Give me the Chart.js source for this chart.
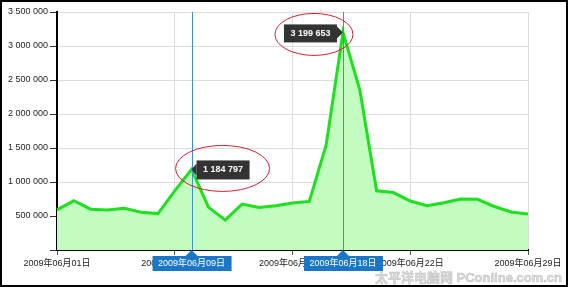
<!DOCTYPE html>
<html>
<head>
<meta charset="utf-8">
<script src="https://cdn.jsdelivr.net/npm/chart.js@4/dist/chart.umd.min.js"></script>
<style>
html,body{margin:0;padding:0;background:#fff;}
#wrap{position:relative;width:568px;height:287px;}
</style>
</head>
<body>
<div id="wrap"><canvas id="c" width="568" height="287"></canvas></div>
<script>
const categories = [
  '2009年06月01日','2009年06月02日','2009年06月03日','2009年06月04日','2009年06月05日',
  '2009年06月06日','2009年06月07日','2009年06月08日','2009年06月09日','2009年06月10日',
  '2009年06月11日','2009年06月12日','2009年06月13日','2009年06月14日','2009年06月15日',
  '2009年06月16日','2009年06月17日','2009年06月18日','2009年06月19日','2009年06月20日',
  '2009年06月21日','2009年06月22日','2009年06月23日','2009年06月24日','2009年06月25日',
  '2009年06月26日','2009年06月27日','2009年06月28日','2009年06月29日'
];
const visits = [
  590000, 725000, 600000, 590000, 615000, 555000, 535000, 870000, 1184797, 630000,
  440000, 675000, 625000, 650000, 690000, 715000, 1545000, 3199653, 2355000, 870000,
  845000, 720000, 650000, 695000, 750000, 745000, 640000, 560000, 530000
];
const yTicks = [0, 500000, 1000000, 1500000, 2000000, 2500000, 3000000, 3500000];
const highlightIndex = [8, 17];
const watermark = '太平洋电脑网 PConline.com.cn';

const FONT = "'Liberation Sans', Arial, 'Noto Sans CJK SC', sans-serif";
Chart.defaults.font.family = FONT;
Chart.defaults.font.size = 9;
Chart.defaults.color = '#222';

function fmt(v){ return String(Math.round(v)).replace(/\B(?=(\d{3})+(?!\d))/g,' '); }

const annot = {
  id:'annot',
  afterDatasetsDraw(chart){
    const ctx = chart.ctx, a = chart.chartArea, xs = chart.scales.x;
    ctx.save();
    ctx.strokeStyle = '#3b8fd4'; ctx.lineWidth = 1;
    highlightIndex.forEach(i=>{
      const x = Math.round(xs.getPixelForValue(i)) + 0.5;
      ctx.beginPath(); ctx.moveTo(x, a.top); ctx.lineTo(x, a.bottom); ctx.stroke();
    });
    ctx.restore();
  },
  afterDraw(chart){
    const ctx = chart.ctx, a = chart.chartArea, xs = chart.scales.x, ys = chart.scales.y;
    ctx.save();
    highlightIndex.forEach((i,k)=>{
      const px = xs.getPixelForValue(i), py = ys.getPixelForValue(visits[i]);
      const txt = fmt(visits[i]);
      ctx.font = 'bold 9px ' + FONT;
      const bw = 53, bh = 19;
      let bx, cx, cy, rx, ry;
      ctx.fillStyle = '#333333';
      ctx.beginPath();
      if (k === 0) {
        bx = px + 5;
        ctx.moveTo(px, py); ctx.lineTo(bx, py - 6); ctx.lineTo(bx, py + 6); ctx.closePath(); ctx.fill();
        ctx.fillRect(bx, py - 9, bw, bh);
        cx = px + 31; cy = py - 1; rx = 47; ry = 23;
      } else {
        bx = px - 6 - bw;
        ctx.moveTo(px, py); ctx.lineTo(px - 6, py - 6); ctx.lineTo(px - 6, py + 6); ctx.closePath(); ctx.fill();
        ctx.fillRect(bx, py - 8, bw, bh - 1);
        cx = px - 29; cy = py + 2; rx = 39; ry = 21;
      }
      ctx.fillStyle = '#fff'; ctx.textAlign = 'center'; ctx.textBaseline = 'middle';
      ctx.fillText(txt, bx + bw/2, py + (k===0?0.5:1));
      ctx.strokeStyle = '#d0202e'; ctx.lineWidth = 1;
      ctx.beginPath(); ctx.ellipse(cx, cy, rx, ry, 0, 0, Math.PI*2); ctx.stroke();

      // bottom blue date label
      const lw = 79, lh = 15, ly = a.bottom + 6;
      ctx.fillStyle = '#1a76c6';
      ctx.beginPath(); ctx.moveTo(px, a.bottom); ctx.lineTo(px + 6, ly); ctx.lineTo(px - 6, ly); ctx.closePath(); ctx.fill();
      ctx.fillRect(px - 39, ly, lw, lh);
      ctx.fillStyle = '#fff'; ctx.font = '9px ' + FONT;
      ctx.fillText(categories[i], px, ly + lh/2 + 0.5);
    });
    // watermark
    ctx.font = 'bold 13px ' + FONT;
    ctx.textAlign = 'right'; ctx.textBaseline = 'middle';
    ctx.fillStyle = 'rgba(215,215,215,0.9)';
    ctx.strokeStyle = 'rgba(170,170,170,0.6)'; ctx.lineWidth = 0.6;
    ctx.fillText(watermark, 562, 278);
    ctx.strokeText(watermark, 562, 278);
    // outer border
    ctx.strokeStyle = '#000'; ctx.lineWidth = 2;
    ctx.strokeRect(1, 1, 566, 285);
    ctx.restore();
  }
};

new Chart(document.getElementById('c'), {
  type:'line',
  data:{
    labels: categories,
    datasets:[{
      data: visits,
      borderColor:'#1fe01f',
      borderWidth:3,
      backgroundColor:'#c2fcc0',
      fill:'origin',
      tension:0,
      pointRadius:0,
      pointHoverRadius:0
    }]
  },
  options:{
    responsive:false,
    animation:false,
    events:[],
    layout:{padding:{top:12,right:40,left:0,bottom:0}},
    plugins:{legend:{display:false},tooltip:{enabled:false}},
    scales:{
      x:{
        type:'category',
        offset:false,
        afterFit(s){ s.height = 37; },
        border:{color:'#000',width:2},
        grid:{
          color:(c)=> (c.index % 7 === 0 ? '#dcdcdc' : 'rgba(0,0,0,0)'),
          tickColor:(c)=> (c.index % 7 === 0 ? '#555' : 'rgba(0,0,0,0)'),
          tickLength:5,
          drawOnChartArea:true
        },
        ticks:{
          autoSkip:false, maxRotation:0, minRotation:0, padding:3,
          callback:(v,i)=> (i % 7 === 0 ? categories[i] : '')
        }
      },
      y:{
        min: yTicks[0], max: yTicks[yTicks.length-1],
        afterFit(s){ s.width = 57; },
        afterBuildTicks(s){ s.ticks = yTicks.map(v=>({value:v})); },
        border:{color:'#000',width:2},
        grid:{color:'#dcdcdc', tickColor:'#333', tickLength:7},
        ticks:{
          padding:2,
          callback:(v)=> (v === 0 ? '' : fmt(v))
        }
      }
    }
  },
  plugins:[annot]
});
</script>
</body>
</html>
